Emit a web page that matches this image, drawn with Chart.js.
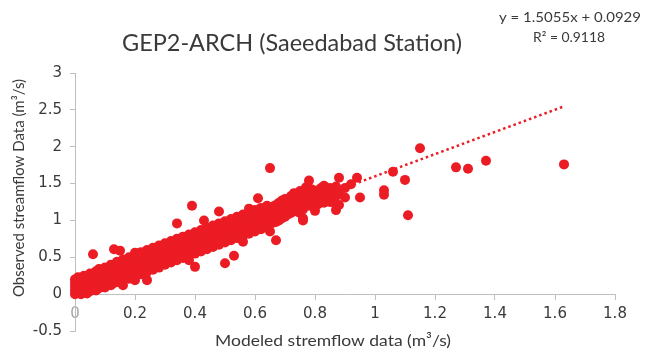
<!DOCTYPE html>
<html>
<head>
<meta charset="utf-8">
<script src="https://cdn.jsdelivr.net/npm/chart.js@4.4.1/dist/chart.umd.min.js"></script>
<style>
  html, body { margin: 0; padding: 0; background: #fff; }
</style>
</head>
<body>
<canvas id="scatterChart" width="648" height="352"></canvas>
<script>
// Modeled vs observed streamflow (m3/s)
const lowFlowPoints = [
    [0,0],[0,0.05],[0,0.1],[0,0.15],[0,0.2],
    [0.01,0.02],[0.01,0.08],[0.01,0.13],[0.01,0.18],[0.01,0.23],
    [0.02,0],[0.02,0.06],[0.02,0.11],[0.02,0.17],[0.02,0.21],
    [0.03,0.03],[0.03,0.09],[0.03,0.14],[0.03,0.2],[0.03,0.25],
    [0.04,0.01],[0.04,0.07],[0.04,0.12],[0.04,0.18],[0.04,0.24],
    [0.05,0.04],[0.05,0.1],[0.05,0.16],[0.05,0.22],[0.05,0.28],
    [0.06,0.06],[0.06,0.13],[0.06,0.19],[0.06,0.26],[0.06,0.54],
    [0.07,0.05],[0.07,0.11],[0.07,0.17],[0.07,0.24],[0.07,0.31],
    [0.08,0.08],[0.08,0.14],[0.08,0.21],[0.08,0.28],[0.08,0.34],
    [0.09,0.1],[0.09,0.16],[0.09,0.23],[0.09,0.3],
    [0.1,0.09],[0.1,0.15],[0.1,0.22],[0.1,0.29],[0.1,0.36],
    [0.11,0.13],[0.11,0.19],[0.11,0.26],[0.11,0.33],
    [0.12,0.12],[0.12,0.18],[0.12,0.25],[0.12,0.32],[0.12,0.4],
    [0.13,0.15],[0.13,0.22],[0.13,0.29],[0.13,0.36],[0.13,0.61],
    [0.14,0.17],[0.14,0.24],[0.14,0.31],[0.14,0.38],[0.14,0.44],
    [0.15,0.16],[0.15,0.22],[0.15,0.3],[0.15,0.37],[0.15,0.59],
    [0.16,0.12],[0.16,0.2],[0.16,0.27],[0.16,0.35],[0.16,0.42],[0.16,0.47],
    [0.17,0.22],[0.17,0.3],[0.17,0.38],[0.17,0.45],
    [0.18,0.21],[0.18,0.28],[0.18,0.36],[0.18,0.43],[0.18,0.5],
    [0.19,0.25],[0.19,0.32],[0.19,0.4],[0.19,0.48],
    [0.2,0.19],[0.2,0.26],[0.2,0.34],[0.2,0.42],[0.2,0.5],[0.2,0.56],
    [0.21,0.28],[0.21,0.36],[0.21,0.44],[0.21,0.52],
    [0.22,0.27],[0.22,0.33],[0.22,0.41],[0.22,0.49],[0.22,0.57],
    [0.23,0.31],[0.23,0.39],[0.23,0.47],[0.23,0.55],
    [0.24,0.19],[0.24,0.3],[0.24,0.37],[0.24,0.45],[0.24,0.53],[0.24,0.6],
    [0.25,0.34],[0.25,0.42],[0.25,0.5],[0.25,0.58],
    [0.26,0.33],[0.26,0.4],[0.26,0.48],[0.26,0.56],[0.26,0.63],
    [0.27,0.37],[0.27,0.45],[0.27,0.53],[0.27,0.61],
    [0.28,0.36],[0.28,0.43],[0.28,0.51],[0.28,0.59],[0.28,0.66],
    [0.29,0.41],[0.29,0.49],[0.29,0.57],[0.29,0.64]
];
const midFlowPoints = [
    [0.3,0.4],[0.3,0.47],[0.3,0.55],[0.3,0.62],[0.3,0.69],
    [0.31,0.44],[0.31,0.52],[0.31,0.6],[0.31,0.67],
    [0.32,0.43],[0.32,0.5],[0.32,0.58],[0.32,0.65],[0.32,0.72],
    [0.33,0.47],[0.33,0.55],[0.33,0.63],[0.33,0.7],
    [0.34,0.96],[0.34,0.46],[0.34,0.53],[0.34,0.61],[0.34,0.68],[0.34,0.75],
    [0.35,0.5],[0.35,0.58],[0.35,0.66],[0.35,0.73],
    [0.36,0.49],[0.36,0.56],[0.36,0.64],[0.36,0.71],[0.36,0.78],
    [0.37,0.53],[0.37,0.61],[0.37,0.69],[0.37,0.76],
    [0.38,0.46],[0.38,0.52],[0.38,0.59],[0.38,0.67],[0.38,0.74],[0.38,0.81],
    [0.39,0.56],[0.39,0.64],[0.39,0.72],[0.39,0.79],[0.39,1.2],
    [0.4,0.37],[0.4,0.55],[0.4,0.62],[0.4,0.7],[0.4,0.77],[0.4,0.84],
    [0.41,0.59],[0.41,0.67],[0.41,0.75],[0.41,0.82],
    [0.42,0.58],[0.42,0.65],[0.42,0.73],[0.42,0.8],[0.42,0.87],
    [0.43,0.62],[0.43,0.7],[0.43,0.78],[0.43,0.85],[0.43,1],
    [0.44,0.61],[0.44,0.68],[0.44,0.76],[0.44,0.83],[0.44,0.9],
    [0.45,0.65],[0.45,0.73],[0.45,0.81],[0.45,0.88],
    [0.46,0.64],[0.46,0.71],[0.46,0.79],[0.46,0.86],[0.46,0.93],
    [0.47,0.68],[0.47,0.76],[0.47,0.84],[0.47,0.91],
    [0.48,0.67],[0.48,0.74],[0.48,0.82],[0.48,0.89],[0.48,0.96],[0.48,1.12],
    [0.49,0.71],[0.49,0.79],[0.49,0.87],[0.49,0.94],
    [0.5,0.42],[0.5,0.7],[0.5,0.77],[0.5,0.85],[0.5,0.92],[0.5,0.99],
    [0.51,0.74],[0.51,0.82],[0.51,0.9],[0.51,0.97],
    [0.52,0.73],[0.52,0.8],[0.52,0.88],[0.52,0.95],[0.52,1.02],
    [0.53,0.52],[0.53,0.77],[0.53,0.85],[0.53,0.93],[0.53,1],
    [0.54,0.76],[0.54,0.83],[0.54,0.91],[0.54,0.98],[0.54,1.05],
    [0.55,0.8],[0.55,0.88],[0.55,0.96],[0.55,1.03],
    [0.56,0.71],[0.56,0.79],[0.56,0.86],[0.56,0.94],[0.56,1.01],[0.56,1.08],
    [0.57,0.83],[0.57,0.91],[0.57,0.99],[0.57,1.06],
    [0.58,0.82],[0.58,0.89],[0.58,0.97],[0.58,1.04],[0.58,1.11],[0.58,1.16],
    [0.59,0.86],[0.59,0.94],[0.59,1.02],[0.59,1.09]
];
const highFlowPoints = [
    [0.6,0.85],[0.6,0.92],[0.6,1],[0.6,1.07],[0.6,1.14],
    [0.61,0.89],[0.61,0.97],[0.61,1.05],[0.61,1.12],[0.61,1.3],
    [0.62,0.88],[0.62,0.95],[0.62,1.03],[0.62,1.1],[0.62,1.17],
    [0.63,0.92],[0.63,1],[0.63,1.08],[0.63,1.15],
    [0.64,0.91],[0.64,0.98],[0.64,1.06],[0.64,1.13],[0.64,1.2],
    [0.65,0.85],[0.65,0.95],[0.65,1.03],[0.65,1.11],[0.65,1.18],[0.65,1.71],
    [0.66,0.97],[0.66,1.04],[0.66,1.12],[0.66,1.19],
    [0.67,0.73],[0.67,0.98],[0.67,1.06],[0.67,1.14],[0.67,1.21],
    [0.68,1],[0.68,1.08],[0.68,1.16],[0.68,1.24],
    [0.69,1.03],[0.69,1.11],[0.69,1.19],[0.69,1.27],
    [0.7,1.05],[0.7,1.13],[0.7,1.21],[0.7,1.29],
    [0.71,1.08],[0.71,1.16],[0.71,1.24],
    [0.72,1.1],[0.72,1.18],[0.72,1.26],[0.72,1.33],
    [0.73,1.37],[0.73,1.14],[0.73,1.22],[0.73,1.3],
    [0.74,1.12],[0.74,1.2],[0.74,1.28],[0.74,1.36],
    [0.75,1.1],[0.75,1.32],[0.75,1.24],[0.75,1.4],
    [0.76,1],[0.76,1.03],[0.76,1.15],[0.76,1.27],
    [0.77,1.23],[0.77,1.31],[0.77,1.45],
    [0.78,1.54],[0.78,1.2],[0.78,1.38],
    [0.79,1.26],[0.79,1.34],[0.79,1.42],
    [0.8,1.13],[0.8,1.3],[0.8,1.37],
    [0.81,1.22],[0.81,1.33],[0.81,1.41],
    [0.82,1.28],[0.82,1.36],[0.82,1.44],
    [0.83,1.24],[0.83,1.39],[0.83,1.47],
    [0.84,1.31],[0.84,1.42],
    [0.85,1.44],[0.85,1.36],[0.85,1.25],
    [0.87,1.14],[0.87,1.21],[0.87,1.33],[0.87,1.46],
    [0.88,1.58],[0.88,1.21],[0.88,1.37],
    [0.9,1.44],[0.9,1.31],[0.92,1.49],[0.94,1.58],[0.95,1.31]
];
const outlierPoints = [
    [1.03,1.41],[1.03,1.35],[1.06,1.66],[1.1,1.55],[1.11,1.07],
    [1.15,1.98],[1.27,1.72],[1.31,1.7],[1.37,1.81],[1.63,1.76]
];

// Linear trendline y = 1.5055x + 0.0929, drawn over the modeled range
const trendX = [0, 1.63];
const trendY = [0.093, 2.547];

const xTicks = [0, 0.2, 0.4, 0.6, 0.8, 1, 1.2, 1.4, 1.6, 1.8];
const yTicks = [-0.5, 0, 0.5, 1, 1.5, 2, 2.5, 3];

const chartTitle = 'GEP2-ARCH (Saeedabad Station)';
const equationText = ['y = 1.5055x + 0.0929', 'R\u00B2 = 0.9118'];
const xTitle = 'Modeled stremflow data (m\u00B3/s)';
const yTitle = 'Observed streamflow Data (m\u00B3/s)';

const pointColor = '#ec1c24';
const textColor = '#3a3a3a';
const axisColor = '#bfbfbf';

const allPoints = lowFlowPoints.concat(midFlowPoints, highFlowPoints, outlierPoints);

// text squeezed/stretched to the width it takes in the picture
function fitText(ctx, text, x, y, size, width) {
    ctx.font = size + 'px Lato';
    const w = ctx.measureText(text).width;
    ctx.save();
    ctx.translate(x, y);
    ctx.scale(width / w, 1);
    ctx.fillText(text, 0, 0);
    ctx.restore();
}

// titles and the trendline equation, drawn on top of the chart
const chartLabels = {
    id: 'chartLabels',
    afterDraw(chart) {
        const ctx = chart.ctx;
        ctx.save();
        ctx.fillStyle = textColor;
        ctx.textAlign = 'center';
        ctx.textBaseline = 'middle';
        fitText(ctx, chartTitle, 292, 43, 24, 340);
        fitText(ctx, equationText[0], 570, 17, 14, 142);
        fitText(ctx, equationText[1], 569, 37, 14, 72);
        fitText(ctx, xTitle, 333, 341, 16, 236);
        ctx.translate(19, 188);
        ctx.rotate(-Math.PI / 2);
        ctx.font = '15px Lato';
        ctx.fillText(yTitle, 0, 0);
        ctx.restore();
    }
};

new Chart(document.getElementById('scatterChart'), {
    type: 'scatter',
    data: {
        datasets: [{
            type: 'line',
            label: 'Linear trend',
            data: trendX.map((x, i) => ({ x: x, y: trendY[i] })),
            borderColor: pointColor,
            borderWidth: 2.5,
            borderDash: [2.5, 3],
            pointRadius: 0,
            fill: false
        }, {
            label: 'Streamflow',
            data: allPoints.map(p => ({ x: p[0], y: p[1] })),
            backgroundColor: pointColor,
            borderColor: pointColor,
            borderWidth: 0,
            pointRadius: 5,
            pointHoverRadius: 5,
            clip: false
        }]
    },
    options: {
        responsive: false,
        animation: false,
        events: [],
        layout: {
            padding: { top: 73, right: 33, bottom: 21, left: 0 }
        },
        plugins: {
            legend: { display: false },
            tooltip: { enabled: false }
        },
        scales: {
            x: {
                type: 'linear',
                position: { y: 0 },
                min: 0,
                max: 1.8,
                afterBuildTicks: scale => {
                    scale.ticks = xTicks.map(v => ({ value: v }));
                },
                grid: {
                    display: true,
                    drawOnChartArea: false,
                    tickLength: 5,
                    color: axisColor
                },
                border: { color: axisColor },
                ticks: {
                    padding: 6,
                    font: { family: "'DejaVu Sans'", size: 15 },
                    color: ctx => ctx.index === 0 ? '#a6a6a6' : textColor,
                    callback: value => String(value)
                }
            },
            y: {
                type: 'linear',
                position: 'left',
                min: -0.5,
                max: 3,
                afterBuildTicks: scale => {
                    scale.ticks = yTicks.map(v => ({ value: v }));
                },
                afterFit: scale => {
                    scale.width = 75;
                },
                grid: {
                    display: true,
                    drawOnChartArea: false,
                    tickLength: 5,
                    color: axisColor
                },
                border: { color: axisColor },
                ticks: {
                    padding: 8,
                    font: { family: "'DejaVu Sans'", size: 15 },
                    color: textColor,
                    callback: value => String(value)
                }
            }
        }
    },
    plugins: [chartLabels]
});
</script>
</body>
</html>
